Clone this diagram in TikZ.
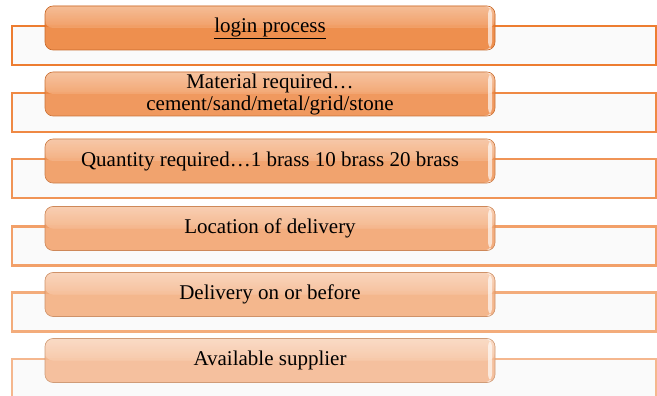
\documentclass[tikz,border=0pt]{standalone}
\usepackage{fontspec}
\setmainfont{Liberation Serif}
\usepackage{tikz}
\usetikzlibrary{calc}
\definecolor{accent}{RGB}{237,125,49}
\definecolor{barfill}{RGB}{250,250,250}
\tikzset{bar/.style={draw=#1, line width=2.3pt, fill=barfill, rectangle, inner sep=0pt,
        minimum width=644pt, minimum height=39pt}}
\tikzset{item/.style={draw=#1!85!black, line width=0.6pt, fill=#1, fill opacity=0.85, text opacity=1,
        rounded corners=8pt, inner sep=0pt, minimum width=450pt, minimum height=44pt,
        align=center, font=\fontsize{21}{22}\selectfont,
        path picture={
          \shade[top color=#1!45!white, bottom color=#1]
            (path picture bounding box.north west) rectangle (path picture bounding box.east);
          \fill[white, opacity=0.65] ([xshift=-7pt]path picture bounding box.north east)
            rectangle ([xshift=-3pt]path picture bounding box.south east);
        }}}

\begin{document}
\begin{tikzpicture}[x=1pt,y=-1pt]
    \clip (0,0) rectangle (657,396);
    \useasboundingbox (0,0) rectangle (657,396);

    \node[bar=accent] (bar1) at (334,45.5) {};
    \node[item=accent] (step1) at (270,28) {\underline{login process}};

    \node[bar=accent!91!white] (bar2) at (334,112.5) {};
    \node[item=accent!91!white] (step2) at (270,94) {Material required…\\cement/sand/metal/grid/stone};

    \node[bar=accent!82!white] (bar3) at (334,178.5) {};
    \node[item=accent!82!white] (step3) at (270,161) {Quantity required…1 brass 10 brass 20 brass};

    \node[bar=accent!73!white] (bar4) at (334,246) {};
    \node[item=accent!73!white] (step4) at (270,228.5) {Location of delivery};

    \node[bar=accent!64!white] (bar5) at (334,312) {};
    \node[item=accent!64!white] (step5) at (270,294.5) {Delivery on or before};

    \node[bar=accent!55!white] (bar6) at (334,378.5) {};
    \node[item=accent!55!white] (step6) at (270,360.5) {Available supplier};
\end{tikzpicture}
\end{document}
